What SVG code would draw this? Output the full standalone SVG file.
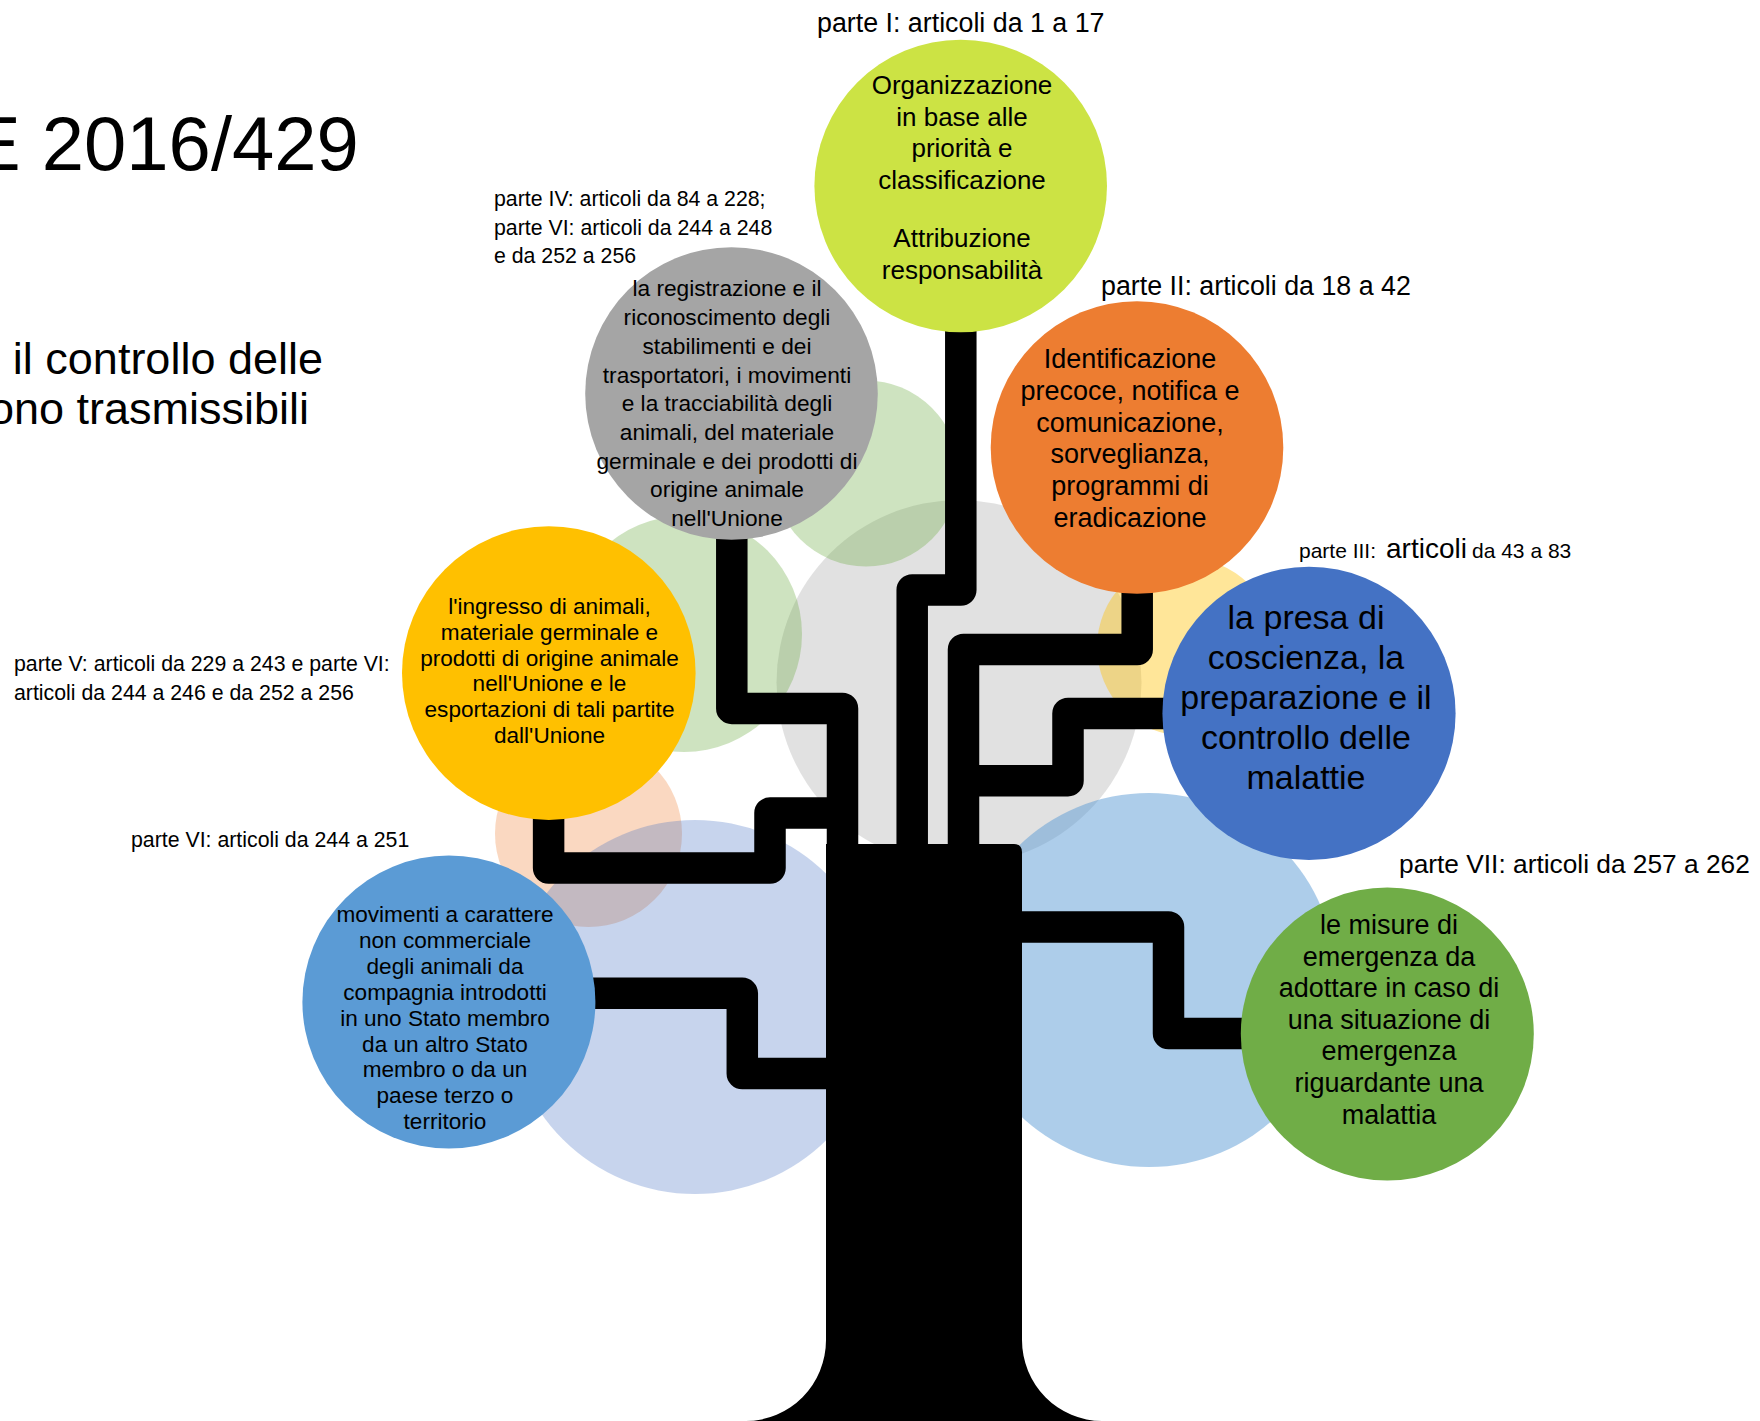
<svg xmlns="http://www.w3.org/2000/svg" width="1760" height="1421" viewBox="0 0 1760 1421">
<style>
text{font-family:"Liberation Sans",Arial,sans-serif;fill:#000}
.c{text-anchor:middle}
.lab{font-size:26.8px}
.lab2{font-size:21.3px}
.br{fill:none;stroke:#000;stroke-width:31.5;stroke-linejoin:round}
</style>
<rect width="1760" height="1421" fill="#fff"/>
<g id="title">
<text x="-30" y="170" style="font-size:76px">E 2016/429</text>
<text x="323" y="374" text-anchor="end" style="font-size:45px">il controllo delle</text>
<text x="309" y="424" text-anchor="end" style="font-size:45px">ono trasmissibili</text>
</g>
<g id="background">
<circle cx="959" cy="682.5" r="182.5" fill="#A5A5A5" fill-opacity="0.33"/>
<circle cx="588.5" cy="833.5" r="93.5" fill="#ED7D31" fill-opacity="0.3"/>
<circle cx="695" cy="1007" r="187" fill="#4472C4" fill-opacity="0.3"/>
<circle cx="1149" cy="980" r="187" fill="#5B9BD5" fill-opacity="0.5"/>
<circle cx="866" cy="473.5" r="93" fill="#70AD47" fill-opacity="0.34"/>
<circle cx="684" cy="634" r="118" fill="#70AD47" fill-opacity="0.34"/>
<circle cx="1186" cy="647" r="89" fill="#FFC000" fill-opacity="0.4"/>
</g>
<g id="connectors">
<path class="br" d="M731.8 510 V708.4 H842.5 V860"/>
<path class="br" d="M960.8 300 V590 H912.2 V860"/>
<path class="br" d="M1137.2 560 V649.5 H963.5 V860"/>
<path class="br" d="M1200 713.4 H1068 V780.7 H963.5"/>
<path class="br" d="M548.6 790 V868 H770 V813 H840"/>
<path class="br" d="M560 993.3 H742.3 V1073.5 H840"/>
<path class="br" d="M1010 927 H1168.5 V1033.5 H1280"/>
</g>
<g id="trunk">
<path d="M826 844 H1014 Q1022 844 1022 852 V1340 A80 81 0 0 0 1102 1421 H746 A80 81 0 0 0 826 1340 Z" fill="#000"/>
</g>
<g id="node-parte1">
<circle cx="960.7" cy="186" r="146.3" fill="#CCE344"/>
<text class="c" x="962" y="94" style="font-size:26px">Organizzazione</text>
<text class="c" x="962" y="125.5" style="font-size:26px">in base alle</text>
<text class="c" x="962" y="157" style="font-size:26px">priorità e</text>
<text class="c" x="962" y="188.5" style="font-size:26px">classificazione</text>
<text class="c" x="962" y="247" style="font-size:26px">Attribuzione</text>
<text class="c" x="962" y="278.5" style="font-size:26px">responsabilità</text>
<text class="lab" x="817" y="32">parte I: articoli da 1 a 17</text>
</g>
<g id="node-parte2">
<circle cx="1137" cy="447.5" r="146.3" fill="#ED7D31"/>
<text class="c" x="1130" y="368.3" style="font-size:27px">Identificazione</text>
<text class="c" x="1130" y="400" style="font-size:27px">precoce, notifica e</text>
<text class="c" x="1130" y="431.7" style="font-size:27px">comunicazione,</text>
<text class="c" x="1130" y="463.4" style="font-size:27px">sorveglianza,</text>
<text class="c" x="1130" y="495.1" style="font-size:27px">programmi di</text>
<text class="c" x="1130" y="526.8" style="font-size:27px">eradicazione</text>
<text class="lab" x="1101" y="295">parte II: articoli da 18 a 42</text>
</g>
<g id="node-parte4">
<circle cx="731.5" cy="393.5" r="146.3" fill="#A5A5A5"/>
<text class="c" x="727" y="296.4" style="font-size:22.7px">la registrazione e il</text>
<text class="c" x="727" y="325.1" style="font-size:22.7px">riconoscimento degli</text>
<text class="c" x="727" y="353.8" style="font-size:22.7px">stabilimenti e dei</text>
<text class="c" x="727" y="382.5" style="font-size:22.7px">trasportatori, i movimenti</text>
<text class="c" x="727" y="411.2" style="font-size:22.7px">e la tracciabilità degli</text>
<text class="c" x="727" y="439.9" style="font-size:22.7px">animali, del materiale</text>
<text class="c" x="727" y="468.6" style="font-size:22.7px">germinale e dei prodotti di</text>
<text class="c" x="727" y="497.3" style="font-size:22.7px">origine animale</text>
<text class="c" x="727" y="526" style="font-size:22.7px">nell'Unione</text>
<text class="lab2" x="494" y="206">parte IV: articoli da 84 a 228;</text>
<text class="lab2" x="494" y="234.5">parte VI: articoli da 244 a 248</text>
<text class="lab2" x="494" y="263">e da 252 a 256</text>
</g>
<g id="node-parte5">
<circle cx="548.8" cy="673.1" r="146.8" fill="#FFC000"/>
<text class="c" x="549.5" y="614" style="font-size:22.6px">l'ingresso di animali,</text>
<text class="c" x="549.5" y="639.8" style="font-size:22.6px">materiale germinale e</text>
<text class="c" x="549.5" y="665.6" style="font-size:22.6px">prodotti di origine animale</text>
<text class="c" x="549.5" y="691.4" style="font-size:22.6px">nell'Unione e le</text>
<text class="c" x="549.5" y="717.2" style="font-size:22.6px">esportazioni di tali partite</text>
<text class="c" x="549.5" y="743" style="font-size:22.6px">dall'Unione</text>
<text class="lab2" x="14" y="671">parte V: articoli da 229 a 243 e parte VI:</text>
<text class="lab2" x="14" y="699.6">articoli da 244 a 246 e da 252 a 256</text>
</g>
<g id="node-parte6">
<circle cx="448.9" cy="1002" r="146.5" fill="#5B9BD5"/>
<text class="c" x="445" y="922" style="font-size:22.6px">movimenti a carattere</text>
<text class="c" x="445" y="947.9" style="font-size:22.6px">non commerciale</text>
<text class="c" x="445" y="973.8" style="font-size:22.6px">degli animali da</text>
<text class="c" x="445" y="999.7" style="font-size:22.6px">compagnia introdotti</text>
<text class="c" x="445" y="1025.6" style="font-size:22.6px">in uno Stato membro</text>
<text class="c" x="445" y="1051.5" style="font-size:22.6px">da un altro Stato</text>
<text class="c" x="445" y="1077.4" style="font-size:22.6px">membro o da un</text>
<text class="c" x="445" y="1103.3" style="font-size:22.6px">paese terzo o</text>
<text class="c" x="445" y="1129.2" style="font-size:22.6px">territorio</text>
<text class="lab2" x="131" y="847">parte VI: articoli da 244 a 251</text>
</g>
<g id="node-parte3">
<circle cx="1309" cy="713.4" r="146.6" fill="#4472C4"/>
<text class="c" x="1306" y="628.8" style="font-size:34px">la presa di</text>
<text class="c" x="1306" y="668.9" style="font-size:34px">coscienza, la</text>
<text class="c" x="1306" y="709" style="font-size:34px">preparazione e il</text>
<text class="c" x="1306" y="749.1" style="font-size:34px">controllo delle</text>
<text class="c" x="1306" y="789.2" style="font-size:34px">malattie</text>
<text x="1299" y="558" style="font-size:21px"><tspan x="1299">parte III:</tspan><tspan x="1386" style="font-size:28px">articoli</tspan><tspan x="1472">da 43 a 83</tspan></text>
</g>
<g id="node-parte7">
<circle cx="1387.3" cy="1034" r="146.5" fill="#70AD47"/>
<text class="c" x="1389" y="934" style="font-size:27px">le misure di</text>
<text class="c" x="1389" y="965.6" style="font-size:27px">emergenza da</text>
<text class="c" x="1389" y="997.2" style="font-size:27px">adottare in caso di</text>
<text class="c" x="1389" y="1028.8" style="font-size:27px">una situazione di</text>
<text class="c" x="1389" y="1060.4" style="font-size:27px">emergenza</text>
<text class="c" x="1389" y="1092" style="font-size:27px">riguardante una</text>
<text class="c" x="1389" y="1123.6" style="font-size:27px">malattia</text>
<text class="lab" x="1399" y="873" style="font-size:26.3px">parte VII: articoli da 257 a 262</text>
</g>
</svg>
